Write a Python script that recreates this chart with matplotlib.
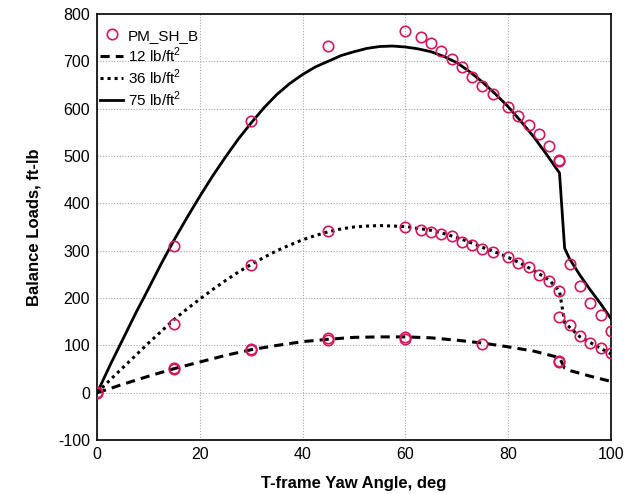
import matplotlib.pyplot as plt

plt.rcParams['font.family'] = ['Liberation Sans', 'DejaVu Sans']
plt.rcParams['mathtext.fontset'] = 'custom'
plt.rcParams['mathtext.rm'] = 'Liberation Sans'
plt.rcParams['axes.unicode_minus'] = False

# balance data, PM_SH_B runs (yaw deg, ft-lb)
pm_x = [0, 0, 15, 15, 15, 15, 30, 30, 30, 30, 45, 45, 45, 45, 60, 60, 60, 60,
        75, 90, 90,
        63, 65, 67, 69, 71, 73, 75, 77, 80, 82, 84, 86, 88, 90, 90, 92, 94, 96, 98, 100,
        63, 65, 67, 69, 71, 73, 75, 77, 80, 82, 84, 86, 88, 90, 90, 92, 94, 96, 98, 100]
pm_y = [0, 2, 309, 146, 51, 53, 574, 269, 90, 92, 733, 341, 112, 115, 764, 351, 114, 117,
        103, 65, 68,
        343, 339, 336, 330, 318, 311, 303, 297, 286, 275, 265, 248, 237, 214, 159, 144, 119, 106, 95, 85,
        751, 739, 722, 705, 688, 667, 648, 631, 603, 584, 565, 546, 521, 489, 492, 271, 225, 190, 164, 131]

# predicted curves for each dynamic pressure
x12 = [0, 5, 10, 15, 20, 25, 30, 35, 40, 45, 50, 55, 60, 65, 70, 75, 80, 85, 90, 91, 92, 96, 100]
y12 = [0, 18, 35, 51, 65, 79, 91, 100, 108, 113, 117, 118, 118, 116, 111, 105, 97, 88, 74, 52, 47, 35, 24]

x36 = [0, 2.5, 5, 7.5, 10, 12.5, 15, 17.5, 20, 22.5, 25, 27.5, 30, 32.5, 35, 37.5, 40, 42.5, 45,
       47.5, 50, 52.5, 55, 57.5, 60, 62.5, 65, 67.5, 70, 72.5, 75, 77.5, 80, 82.5, 85, 88, 90,
       91, 92, 94, 96, 98, 100]
y36 = [0, 27, 53, 79, 105, 130, 155, 177, 198, 218, 237, 255, 271, 286, 300, 312, 323, 332, 340,
       346, 350, 352, 353, 352, 351, 347, 343, 336, 328, 318, 307, 297, 286, 273, 258, 238, 215,
       148, 138, 118, 106, 94, 82]

x75 = [0, 2.5, 5, 7.5, 10, 12.5, 15, 17.5, 20, 22.5, 25, 27.5, 30, 32.5, 35, 37.5, 40, 42.5, 45,
       47.5, 50, 52.5, 55, 57.5, 60, 62.5, 65, 67.5, 70, 72.5, 75, 77.5, 80, 82.5, 85, 87.5, 90,
       91, 92, 94, 96, 98, 100]
y75 = [0, 58, 113, 168, 220, 273, 323, 370, 415, 458, 498, 536, 570, 602, 630, 653, 672, 688, 700,
       712, 720, 727, 731, 732, 730, 726, 720, 710, 697, 678, 656, 631, 604, 573, 540, 503, 464,
       305, 282, 248, 217, 188, 157]

fig = plt.figure(figsize=(6.35, 4.94), dpi=100)
ax = fig.add_axes([0.153, 0.109, 0.809, 0.863])

ax.plot(pm_x, pm_y, 'o', mfc='none', mec='#d6175e', ms=7.5, mew=1.2, label='PM_SH_B', zorder=3)
ax.plot(x12, y12, color='black', lw=2.2, ls=(0, (3, 2)), label=r'12 lb/ft$^2$')
ax.plot(x36, y36, color='black', lw=2.2, ls=(0, (1, 1.3)), label=r'36 lb/ft$^2$')
ax.plot(x75, y75, color='black', lw=2.0, ls='-', label=r'75 lb/ft$^2$')

ax.set_xlim(0, 100)
ax.set_ylim(-100, 800)
ax.set_xticks(range(0, 101, 20))
ax.set_yticks(range(-100, 801, 100))
ax.grid(True, color='#a8a8a8', lw=0.8, ls=(0, (1, 1.5)))
ax.set_axisbelow(True)
ax.tick_params(length=0, labelsize=11.5, pad=5)
for s in ax.spines.values():
    s.set_linewidth(1.2)

ax.set_xlabel('T-frame Yaw Angle, deg', fontsize=12, fontweight='bold', labelpad=10)
ax.set_ylabel('Balance Loads, ft-lb', fontsize=12, fontweight='bold', labelpad=12)

ax.legend(loc='upper left', bbox_to_anchor=(0.0, 0.972), frameon=False, fontsize=11,
          handlelength=1.5, handletextpad=0.3, borderaxespad=0, borderpad=0.2,
          labelspacing=0.17)

fig.savefig('out.png', dpi=100)
